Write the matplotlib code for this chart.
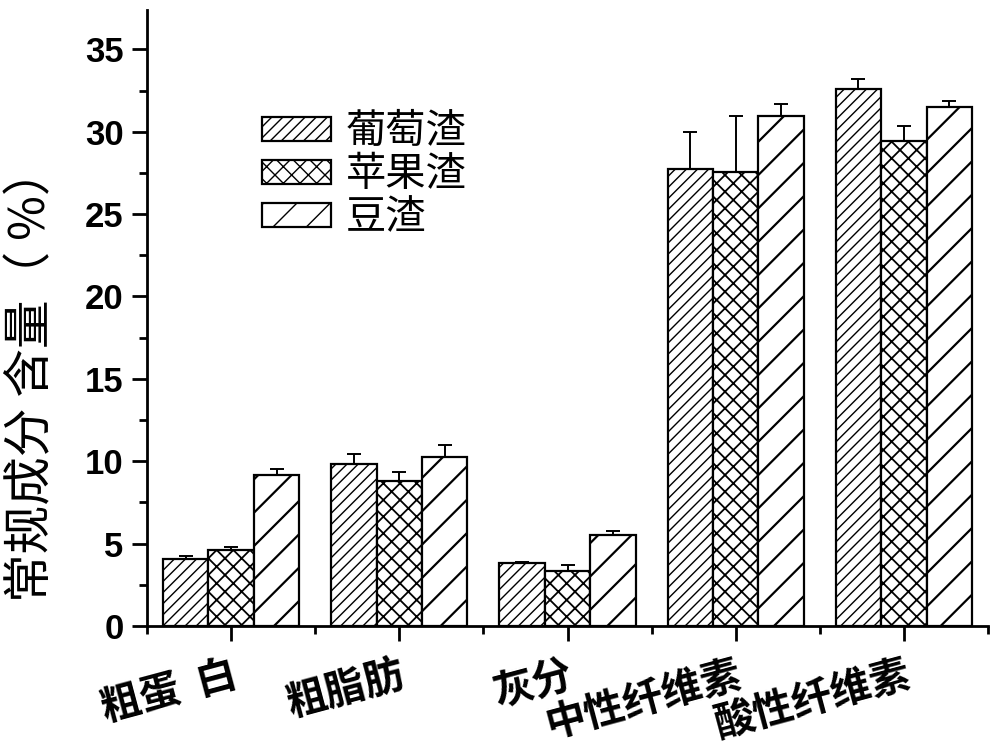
import matplotlib
matplotlib.use("Agg")
import matplotlib.pyplot as plt
import numpy as np
from matplotlib.ticker import MultipleLocator

# data
categories = ["粗蛋  白", "粗脂肪", "灰分", "中性纤维素", "酸性纤维素"]
series = ["葡萄渣", "苹果渣", "豆渣"]
grape = [4.07, 9.84, 3.85, 27.72, 32.6]
apple = [4.6, 8.77, 3.34, 27.54, 29.45]
bean = [9.17, 10.23, 5.55, 30.97, 31.5]
grape_err = [0.15, 0.6, 0.06, 2.27, 0.63]
apple_err = [0.2, 0.55, 0.36, 3.4, 0.87]
bean_err = [0.35, 0.77, 0.2, 0.7, 0.36]

cjk = ["Noto Sans CJK SC", "DejaVu Sans"]
plt.rcParams["font.family"] = ["Liberation Sans", "Noto Sans CJK SC", "DejaVu Sans"]

fig = plt.figure(figsize=(10, 7.56), dpi=100)
ax = fig.add_axes([0.147, 0.172, 0.841, 0.815])

x = np.arange(1, len(categories) + 1)
width = 0.27
values = [grape, apple, bean]
errors = [grape_err, apple_err, bean_err]
hatches = ["///", "xx", "/"]
hatch_lw = [1.0, 1.3, 1.6]

for i, (vals, errs) in enumerate(zip(values, errors)):
    pos = x + (i - 1) * width
    with plt.rc_context({"hatch.linewidth": hatch_lw[i]}):
        ax.bar(pos, vals, width, color="white", edgecolor="black", linewidth=1.6,
               hatch=hatches[i], label=series[i], zorder=2)
    ax.errorbar(pos, vals, yerr=[np.zeros(len(errs)), errs], fmt="none",
                ecolor="black", elinewidth=1.4, capsize=5, capthick=1.4, zorder=1)

ax.set_xlim(0.5, 5.5)
ax.set_ylim(0, 37.4)
ax.set_xticks(x)
ax.set_xticklabels(categories, rotation=15, ha="right", rotation_mode="anchor",
                   family=cjk, fontsize=29, fontweight="bold")
ax.set_xticks(np.arange(0.5, 5.6, 1.0), minor=True)
ax.yaxis.set_major_locator(MultipleLocator(5))
ax.yaxis.set_minor_locator(MultipleLocator(2.5))

for lab in ax.get_yticklabels():
    lab.set_fontsize(25)
    lab.set_fontweight("bold")

ax.tick_params(axis="both", which="major", direction="out", length=11, width=2, pad=6)
ax.tick_params(axis="both", which="minor", direction="out", length=6, width=2)
ax.tick_params(axis="x", which="major", pad=9)

ax.spines["top"].set_visible(False)
ax.spines["right"].set_visible(False)
ax.spines["left"].set_linewidth(2)
ax.spines["bottom"].set_linewidth(2)

fig.text(0.032, (756 - 374) / 756, "常规成分 含量（ %）", rotation=90, ha="center",
         va="center", family=cjk, fontsize=35)

ax.legend(loc="upper left", bbox_to_anchor=(0.094, 0.894), frameon=False,
          prop={"family": cjk, "size": 29, "weight": "medium"}, handlelength=1.7,
          handleheight=0.55, labelspacing=0.05, handletextpad=0.37)

fig.savefig("out.png", dpi=100)
plt.close(fig)
